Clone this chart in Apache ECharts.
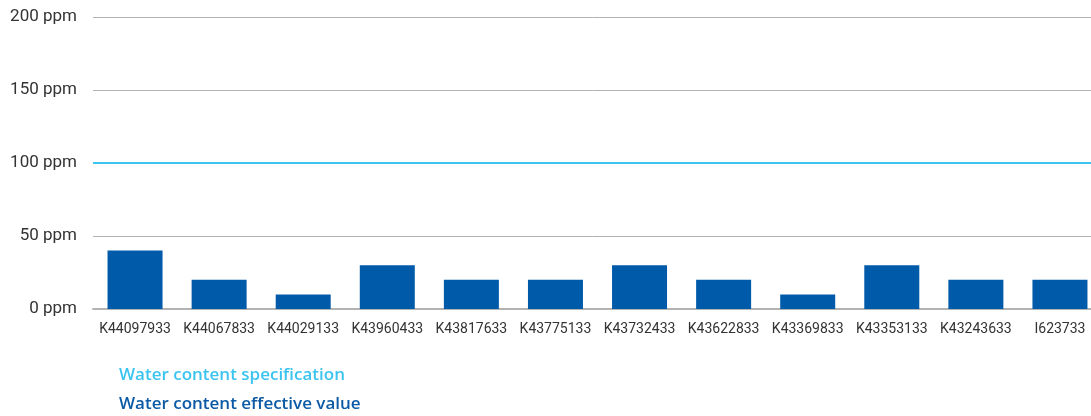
<!DOCTYPE html>
<html>
<head>
<meta charset="utf-8">
<script src="https://cdn.jsdelivr.net/npm/echarts@6/dist/echarts.min.js"></script>
<style>
    html, body { margin: 0; padding: 0; background: #fff; }
    #chart { width: 1091px; height: 416px; }
</style>
</head>
<body>
<div id="chart"></div>
<script>
// batch numbers along the x axis
const batches = ['K44097933', 'K44067833', 'K44029133', 'K43960433', 'K43817633', 'K43775133',
    'K43732433', 'K43622833', 'K43369833', 'K43353133', 'K43243633', 'I623733']
// measured water content, ppm
const effective = [40, 20, 10, 30, 20, 20, 30, 20, 10, 30, 20, 20]
// spec limit, ppm
const specLimit = 100
const yTicks = [0, 50, 100, 150, 200]

const specName = 'Water content specification'
const effName = 'Water content effective value'

// one text-only legend row per series
const legendRow = (name, color, top) => ({
    left: 109,
    top: top,
    icon: 'none',
    itemWidth: 0,
    selectedMode: false,
    textStyle: {
        fontFamily: 'Open Sans',
        fontSize: 17,
        fontWeight: 600,
        color: color
    },
    data: [name]
})

const chart = echarts.init(document.getElementById('chart'))
chart.setOption({
    animation: false,
    textStyle: { fontFamily: 'Roboto' },
    grid: {
        left: 93,
        width: 1009,
        top: 17,
        height: 292,
        outerBoundsMode: 'none'
    },
    legend: [
        legendRow(specName, '#3cc4f0', 362),
        legendRow(effName, '#0b5aa5', 391)
    ],
    xAxis: {
        type: 'category',
        data: batches,
        axisTick: { show: false },
        axisLine: { lineStyle: { color: '#b3b3b3', width: 2 } },
        axisLabel: { color: '#333', fontSize: 14, margin: 13, interval: 0 }
    },
    yAxis: {
        type: 'value',
        min: yTicks[0],
        max: yTicks[yTicks.length - 1],
        interval: 50,
        axisLine: { show: false },
        axisTick: { show: false },
        splitLine: { lineStyle: { color: '#b3b3b3', width: 1 } },
        axisLabel: {
            color: '#333',
            fontSize: 17,
            margin: 16,
            formatter: v => v + ' ppm'
        }
    },
    series: [
        {
            name: specName,
            type: 'line',
            data: [],
            markLine: {
                silent: true,
                symbol: 'none',
                label: { show: false },
                lineStyle: { color: '#3cc4f0', width: 2, type: 'solid' },
                data: [{ yAxis: specLimit }]
            }
        },
        {
            name: effName,
            type: 'bar',
            barWidth: 55,
            itemStyle: { color: '#005aaa' },
            data: effective
        }
    ]
})
</script>
</body>
</html>
